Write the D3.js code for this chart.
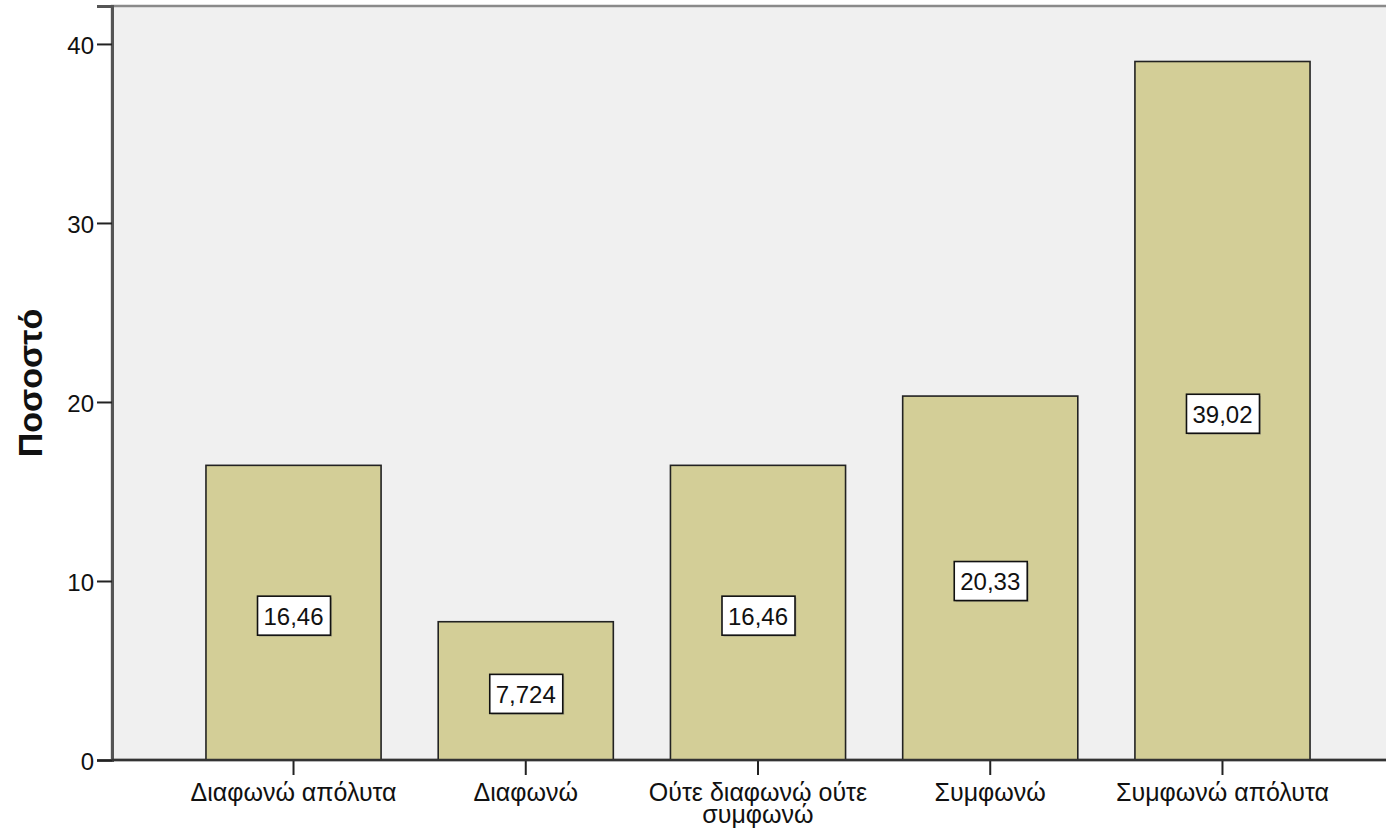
<!DOCTYPE html>
<html><head><meta charset="utf-8">
<script src="https://cdn.jsdelivr.net/npm/d3@7"></script>
<style>body{margin:0;background:#fff;}svg{display:block;font-family:"Liberation Sans",Arial,sans-serif;}</style>
</head><body><svg id="c" width="1386" height="832"></svg>
<script>
const categories = ["Διαφωνώ απόλυτα","Διαφωνώ","Ούτε διαφωνώ ούτε συμφωνώ","Συμφωνώ","Συμφωνώ απόλυτα"];
const labelLines = [["Διαφωνώ απόλυτα"],["Διαφωνώ"],["Ούτε διαφωνώ ούτε","συμφωνώ"],["Συμφωνώ"],["Συμφωνώ απόλυτα"]];
const values = [16.46, 7.724, 16.46, 20.33, 39.02];
const valueLabels = ["16,46","7,724","16,46","20,33","39,02"];
const yTicks = [0,10,20,30,40];
const yTitle = "Ποσοστό";

const svg = d3.select("#c");
const plotL = 112, plotT = 6, plotR = 1392, plotB = 760;
const y = d3.scaleLinear().domain([0, 42.12]).range([plotB, plotT]);
const x = d3.scaleBand().domain(categories).range([177.4, 1338.6]).paddingInner(0.246).paddingOuter(0.123);

svg.append("rect").attr("x",plotL).attr("y",plotT).attr("width",plotR-plotL).attr("height",plotB-plotT)
  .attr("fill","#f0f0f0").attr("stroke","#8a8a8a").attr("stroke-width",2.5);

// bars
svg.selectAll("rect.bar").data(values).join("rect").attr("class","bar")
  .attr("x",(d,i)=>x(categories[i])).attr("width",x.bandwidth())
  .attr("y",d=>y(d)).attr("height",d=>y(0)-y(d))
  .attr("fill","#d3ce97").attr("stroke","#222").attr("stroke-width",1.6);

// value labels
const lg = svg.selectAll("g.lab").data(values).join("g").attr("class","lab")
  .attr("transform",(d,i)=>`translate(${x(categories[i])+x.bandwidth()/2},${y(d/2)})`);
lg.append("rect").attr("x",-36).attr("y",-16.5).attr("width",73).attr("height",39)
  .attr("fill","#666").attr("opacity",0.35).attr("transform","translate(1.5,1.5)");
lg.append("rect").attr("x",-36).attr("y",-16.5).attr("width",73).attr("height",39)
  .attr("fill","#fff").attr("stroke","#111").attr("stroke-width",1.6);
lg.append("text").attr("text-anchor","middle").attr("y",12).attr("font-size",24).attr("fill","#111")
  .text((d,i)=>valueLabels[i]);

// y axis
const ya = svg.append("g").attr("transform",`translate(${plotL},0)`)
  .call(d3.axisLeft(y).tickValues(yTicks).tickSize(15).tickPadding(3).tickFormat(d3.format("d")));
ya.select(".domain").attr("stroke","#555").attr("stroke-width",3);
ya.selectAll(".tick line").attr("stroke","#222").attr("stroke-width",2);
ya.selectAll(".tick text").attr("font-size",24).attr("fill","#111").attr("dy","0.4em").attr("font-family","Liberation Sans, Arial, sans-serif");

// x axis
const xa = svg.append("g").attr("transform",`translate(0,${plotB})`)
  .call(d3.axisBottom(x).tickSize(15).tickFormat(""));
xa.select(".domain").remove();
xa.selectAll(".tick line").attr("stroke","#222").attr("stroke-width",2);
svg.append("line").attr("x1",plotL).attr("x2",plotR).attr("y1",plotB).attr("y2",plotB).attr("stroke","#333").attr("stroke-width",2.5);

categories.forEach((c,i)=>{
  const t = svg.append("text").attr("text-anchor","middle").attr("font-size",25).attr("fill","#111")
    .attr("x",x(c)+x.bandwidth()/2).attr("y",801);
  labelLines[i].forEach((ln,j)=>t.append("tspan").attr("x",x(c)+x.bandwidth()/2).attr("dy",j?22:0).text(ln));
});

svg.append("text").attr("transform","translate(42,383) rotate(-90)").attr("text-anchor","middle")
  .attr("font-size",34).attr("font-weight","bold").attr("fill","#111").text(yTitle);
</script></body></html>
